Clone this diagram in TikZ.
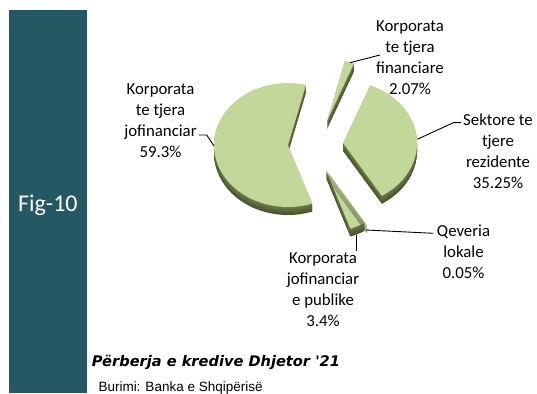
\documentclass[tikz,border=0pt]{standalone}
\usepackage{fontspec}
\setmainfont{Carlito}
\newfontfamily\titlefont{DejaVu Sans}
\newfontfamily\srcfont{Liberation Sans}
\usepackage{xcolor}
\usepackage{tikz}
\definecolor{figbar}{RGB}{36,89,99}
\definecolor{pietop}{RGB}{196,215,155}
\definecolor{piedark}{RGB}{72,82,44}
\definecolor{pielight}{RGB}{122,137,86}

\begin{document}
\begin{tikzpicture}[x=1pt,y=1pt,
    lbl/.style={align=center,inner sep=2pt,font=\fontsize{16.8}{21}\selectfont},
    leader/.style={draw=black,line width=0.9pt}]
\useasboundingbox (0,0) rectangle (537,393);
\fill[figbar] (9.2,0) rectangle (86.6,382.7);
\node[white,font=\fontsize{24}{28}\selectfont] (fig) at (47.9,188) {Fig-10};
% slices: centre x/centre y/start/end
\foreach \cx/\cy/\ta/\tb in {327/272/76/68.55, 343/250/68.55/-58.35,
                            288/248/-70.77/-284, 326/223/-58.53/-70.77,
                            328/221/-58.35/-58.53}
{
  \foreach \d [evaluate=\d as \p using int(20+10*\d)] in {8,7,...,1}
  \fill[yshift=-\d pt,color=piedark!\p!pielight] (\cx,\cy) -- ++(\ta:74 and 62)
        arc[start angle=\ta,end angle=\tb,x radius=74,y radius=62] -- cycle;
  \fill[pietop] (\cx,\cy) -- ++(\ta:74 and 62)
        arc[start angle=\ta,end angle=\tb,x radius=74,y radius=62] -- cycle;
}
\node[lbl] (lab5) at (160.5,272.2) {Korporata\\te tjera\\jofinanciar\\59.3\%};
\node[lbl] (lab1) at (410,335) {Korporata\\te tjera\\financiare\\2.07\%};
\node[lbl] (lab2) at (498,242.2) {Sektore te\\tjere\\rezidente\\35.25\%};
\node[lbl] (lab3) at (463.5,141.3) {Qeveria\\lokale\\0.05\%};
\node[lbl] (lab4) at (323,103) {Korporata\\jofinanciar\\e publike\\3.4\%};
% leaders
\coordinate (k5) at (214,247);
\coordinate (b5) at (206.7,258);
\draw[leader] (k5) -- (b5) -- (b5 -| lab5.east);
\coordinate (k1) at (350,330.3);
\coordinate (e1) at (380,338);
\draw[leader] (k1) -- (e1);
\coordinate (k2) at (417.3,253.7);
\coordinate (b2) at (453.3,270.3);
\draw[leader] (k2) -- (b2) -- (b2 -| lab2.west);
\coordinate (k3) at (366,163);
\coordinate (e3) at (433.3,159.7);
\draw[leader] (k3) -- (e3);
\coordinate (k4) at (356.7,158);
\draw[leader] (k4) -- (k4 |- lab4.north);
\node[anchor=base west,inner sep=0pt,font=\titlefont\bfseries\itshape\fontsize{14.6}{17}\selectfont]
  (title) at (91.7,27) {Përberja e kredive Dhjetor \textquotesingle21};
\node[anchor=base west,inner sep=0pt,font=\srcfont\fontsize{13.5}{16}\selectfont]
  (src) at (98.3,1.5) {Burimi: Banka e Shqipërisë};
\end{tikzpicture}
\end{document}
